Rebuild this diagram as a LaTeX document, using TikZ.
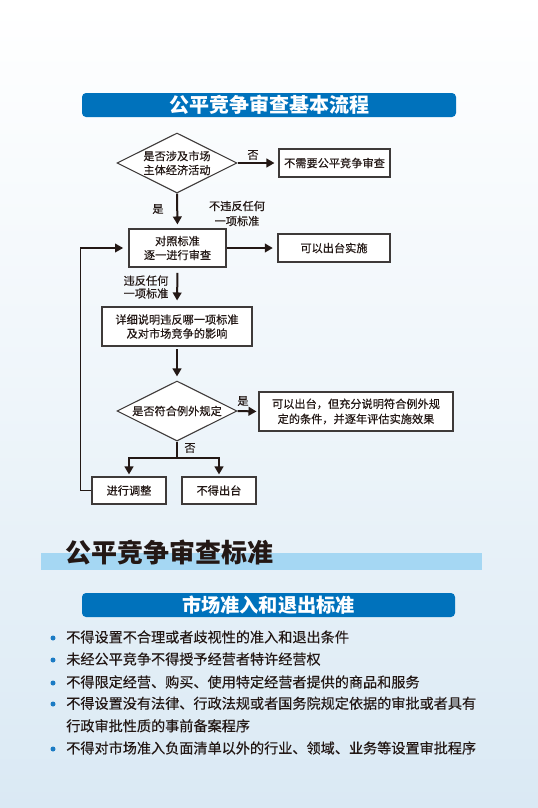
\documentclass[tikz,border=0pt]{standalone}
\usepackage{fontspec}
\setmainfont{Noto Sans CJK SC}
\newfontfamily\medfont{Noto Sans CJK SC}[FakeBold=0.35]
\usetikzlibrary{shapes.geometric,arrows.meta}
\definecolor{barblue}{HTML}{0072BC}
\definecolor{bgblue}{HTML}{DAE9F4}
\definecolor{stripblue}{HTML}{A5D7F3}
\definecolor{ink}{HTML}{231815}
\definecolor{boxline}{HTML}{3E3A39}
\definecolor{dotblue}{HTML}{1B7BC4}
\def\px{0.75pt}
\tikzset{
  flowfont/.style={font=\medfont\fontsize{8.4}{10.5}\selectfont, text=ink},
  titlebar/.style={fill=barblue, rounded corners=4*\px, text=white, inner sep=0pt,
    font=\bfseries\fontsize{15}{18}\selectfont},
  fbox/.style={draw=boxline, line width=0.8pt, fill=white, flowfont, align=center, inner sep=0pt},
  fdiam/.style={diamond, draw=boxline, line width=0.8pt, fill=white, flowfont, align=center,
    inner sep=0pt, shape aspect=2},
  lbl/.style={flowfont, align=center, inner sep=0pt},
  arr/.style={draw=ink, line width=1.5pt, -{Triangle[length=6pt,width=6.5pt]}, shorten >=3pt},
  flowline/.style={draw=ink, line width=1.5pt},
  backline/.style={draw=ink, line width=1pt, -{Triangle[length=6pt,width=6.5pt]}, shorten >=4pt},
  bullettext/.style={anchor=west, inner sep=0pt, text=ink, align=left,
    font=\medfont\fontsize{10.6}{16.9}\selectfont},
  dot/.style={circle, fill=dotblue, inner sep=0pt, minimum size=5*\px}
}
\begin{document}
\begin{tikzpicture}[x=0.75pt,y=-0.75pt]
\path[use as bounding box] (0,0) rectangle (538,808);
\shade[top color=white, bottom color=bgblue, middle color=white!55!bgblue] (0,0) rectangle (538,808);

% title bar
\node[titlebar, minimum width=374*\px, minimum height=24*\px] (t1) at (269,105) {公平竞争审查基本流程};

% flow chart
\node[fdiam, minimum width=120*\px, minimum height=60*\px] (d1) at (177,163) {是否涉及市场\\主体经济活动};
\node[fbox, minimum width=111*\px, minimum height=28*\px] (b1) at (334.5,163) {不需要公平竞争审查};
\node[fbox, minimum width=97*\px, minimum height=38*\px] (b2) at (177.5,248) {对照标准\\逐一进行审查};
\node[fbox, minimum width=112*\px, minimum height=28*\px] (b3) at (334,248) {可以出台实施};
\node[fbox, minimum width=150*\px, minimum height=39*\px] (b4) at (177,326.5) {详细说明违反哪一项标准\\及对市场竞争的影响};
\node[fdiam, minimum width=120*\px, minimum height=60*\px] (d2) at (177,411) {是否符合例外规定};
\node[fbox, minimum width=194*\px, minimum height=39*\px, font=\medfont\fontsize{8.4}{11.3}\selectfont] (b5) at (356,411.5) {可以出台，但充分说明符合例外规\\定的条件，并逐年评估实施效果};
\node[fbox, minimum width=74*\px, minimum height=27*\px] (b6) at (129,490.5) {进行调整};
\node[fbox, minimum width=74*\px, minimum height=27*\px] (b7) at (219,490.5) {不得出台};

% labels
\node[lbl] (l1) at (253,155) {否};
\node[lbl] (l2) at (158,209) {是};
\node[lbl, font=\medfont\fontsize{8.4}{11.3}\selectfont] (l3) at (237,213.5) {不违反任何\\一项标准};
\node[lbl, font=\medfont\fontsize{8.4}{9.6}\selectfont] (l4) at (146,287) {违反任何\\一项标准};
\node[lbl] (l5) at (243,401) {是};
\node[lbl] (l6) at (190,448) {否};

% connectors
\draw[arr] (d1.east) -- (b1.west);
\draw[arr] (d1.south) -- (b2.north);
\draw[arr, shorten >=3.5pt] (b2.east) -- (b3.west);
\draw[arr, shorten <=4pt, shorten >=4.5pt] (b2.south) -- (b4.north);
\draw[arr, shorten <=2pt] (b4.south) -- (d2.north);
\draw[arr, shorten >=1.5pt] (d2.east) -- (b5.west);
\coordinate (br) at (177,458);
\draw[flowline] (d2.south) -- (br);
\draw[arr, shorten >=1.5pt] (br) -| (b6.north);
\draw[arr, shorten >=1.5pt] (br) -| (b7.north);
\draw[backline] (b6.west) -- ++(-11,0) |- (b2.west);

% section heading
\fill[stripblue] (41,553) rectangle (482,570);
\node[anchor=west, inner sep=0pt, text=ink, font=\bfseries\fontsize{19.5}{22}\selectfont] (h2) at (65,552) {公平竞争审查标准};

% second title bar
\node[titlebar, minimum width=373*\px, minimum height=24*\px, font=\bfseries\fontsize{14.4}{17}\selectfont] (t2) at (268.5,605) {市场准入和退出标准};

% bullets
\node[dot] (p1) at (53,638) {};
\node[bullettext] (s1) at (66,637) {不得设置不合理或者歧视性的准入和退出条件};
\node[dot] (p2) at (53,660) {};
\node[bullettext] (s2) at (66,659) {未经公平竞争不得授予经营者特许经营权};
\node[dot] (p3) at (53,683) {};
\node[bullettext] (s3) at (66,682) {不得限定经营、购买、使用特定经营者提供的商品和服务};
\node[dot] (p4) at (53,704) {};
\node[bullettext] (s4) at (66,714.5) {不得设置没有法律、行政法规或者国务院规定依据的审批或者具有\\行政审批性质的事前备案程序};
\node[dot] (p5) at (53,749) {};
\node[bullettext] (s5) at (66,748) {不得对市场准入负面清单以外的行业、领域、业务等设置审批程序};
\end{tikzpicture}
\end{document}
